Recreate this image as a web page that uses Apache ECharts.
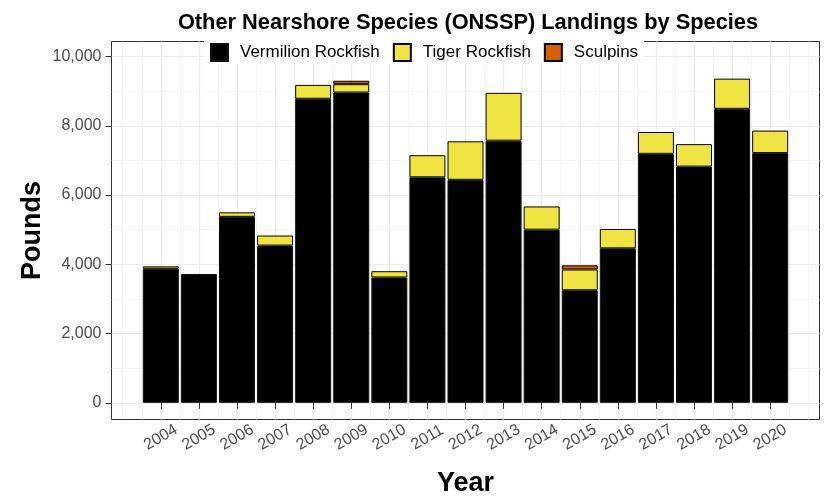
<!DOCTYPE html>
<html>
<head>
<meta charset="utf-8">
<script src="https://cdn.jsdelivr.net/npm/echarts@6/dist/echarts.min.js"></script>
<style>html,body{margin:0;padding:0;background:#fff;}#c{width:824px;height:496px;}</style>
</head>
<body>
<div id="c"></div>
<script>
const years = [2004,2005,2006,2007,2008,2009,2010,2011,2012,2013,2014,2015,2016,2017,2018,2019,2020];
const vermilion = [3870,3720,5370,4540,8780,8960,3620,6510,6440,7570,5000,3250,4460,7190,6820,8490,7210];
const tiger     = [70,0,130,290,400,240,180,640,1110,1380,670,600,560,630,650,870,650];
const sculpins  = [0,0,0,0,0,100,0,0,0,0,0,120,0,0,0,0,0];
const yTicks = [0,2000,4000,6000,8000,10000];
const yMinor = [1000,3000,5000,7000,9000];
const xMinor = [2003,2003.5,2004.5,2005.5,2006.5,2007.5,2008.5,2009.5,2010.5,2011.5,2012.5,2013.5,2014.5,2015.5,2016.5,2017.5,2018.5,2019.5,2020.5,2021];
const xLimits = [2002.705, 2021.295];
const yLimits = [-482, 10433];

const clean = arr => arr.map(v => v > 0 ? v : null);
const font = 'Liberation Sans, Arial, sans-serif';
const chart = echarts.init(document.getElementById('c'), null, {renderer:'canvas'});
const gridLine = {show:true, lineStyle:{color:'#EBEBEB', width:1.2}};
const minorLine = {show:true, lineStyle:{color:'#F0F0F0', width:0.7}};
const G = {left:111.5, right:4.5, top:41.5, bottom:76.5, outerBoundsMode:'none', containLabel:false};
chart.setOption({
  animation:false,
  backgroundColor:'#fff',
  title:{text:'Other Nearshore Species (ONSSP) Landings by Species', left:463, top:7, textAlign:'center',
    textStyle:{fontFamily:font, fontSize:21.8, fontWeight:'bold', color:'#000'}},
  legend:{top:41, left:204, itemWidth:17, itemHeight:17, itemGap:13, icon:'rect',
    backgroundColor:'#fff', padding:[2,6,2,6],
    textStyle:{fontFamily:font, fontSize:17, color:'#000', padding:[0,0,0,7]},
    data:['Vermilion Rockfish','Tiger Rockfish','Sculpins']},
  grid:[
    Object.assign({show:true, borderColor:'#333', borderWidth:1, backgroundColor:'transparent'}, G),
    Object.assign({}, G)
  ],
  xAxis:[
    {type:'value', gridIndex:0, min:xLimits[0], max:xLimits[1],
     name:'Year', nameLocation:'middle', nameGap:51, nameMoveOverlap:false,
     nameTextStyle:{fontFamily:font, fontSize:27, fontWeight:'bold', color:'#000'},
     axisLine:{show:false},
     axisTick:{show:true, length:6, customValues:years, lineStyle:{color:'#333', width:1}},
     axisLabel:{customValues:years, rotate:30, align:'center', verticalAlign:'middle', margin:18,
       fontFamily:font, fontSize:16, color:'#4D4D4D', formatter: v => String(v)},
     splitLine:gridLine},
    {type:'value', gridIndex:0, min:xLimits[0], max:xLimits[1], position:'bottom',
     axisLine:{show:false}, axisTick:{show:false, customValues:xMinor}, axisLabel:{show:false},
     splitLine:minorLine},
    {type:'category', gridIndex:1, data:years, boundaryGap:true, show:false}
  ],
  yAxis:[
    {type:'value', gridIndex:0, min:yLimits[0], max:yLimits[1],
     name:'Pounds', nameLocation:'middle', nameGap:65, nameMoveOverlap:false,
     nameTextStyle:{fontFamily:font, fontSize:27, fontWeight:'bold', color:'#000'},
     axisLine:{show:false},
     axisTick:{show:true, length:6, customValues:yTicks, lineStyle:{color:'#333', width:1}},
     axisLabel:{customValues:yTicks, margin:10, fontFamily:font, fontSize:16, color:'#4D4D4D',
       formatter: v => v.toLocaleString('en-US')},
     splitLine:gridLine},
    {type:'value', gridIndex:0, min:yLimits[0], max:yLimits[1], position:'left',
     axisLine:{show:false}, axisTick:{show:false, customValues:yMinor}, axisLabel:{show:false},
     splitLine:minorLine},
    {type:'value', gridIndex:1, min:yLimits[0], max:yLimits[1], show:false}
  ],
  series:[
    {name:'Vermilion Rockfish', type:'bar', stack:'s', xAxisIndex:2, yAxisIndex:2, barWidth:36, data:clean(vermilion),
     itemStyle:{color:'#000', borderColor:'#111', borderWidth:1}},
    {name:'Tiger Rockfish', type:'bar', stack:'s', xAxisIndex:2, yAxisIndex:2, barWidth:36, data:clean(tiger),
     itemStyle:{color:'#F0E442', borderColor:'#000', borderWidth:1}},
    {name:'Sculpins', type:'bar', stack:'s', xAxisIndex:2, yAxisIndex:2, barWidth:36, data:clean(sculpins),
     itemStyle:{color:'#D55E00', borderColor:'#000', borderWidth:1}}
  ]
});
// align the bar grid so that its category bands sit on the year positions of the value axis
const x0 = chart.convertToPixel({xAxisIndex:0}, years[0] - 0.5);
const x1 = chart.convertToPixel({xAxisIndex:0}, years[years.length-1] + 0.5);
chart.setOption({grid:[{}, {left:x0, right:824 - x1}]});
</script>
</body>
</html>
